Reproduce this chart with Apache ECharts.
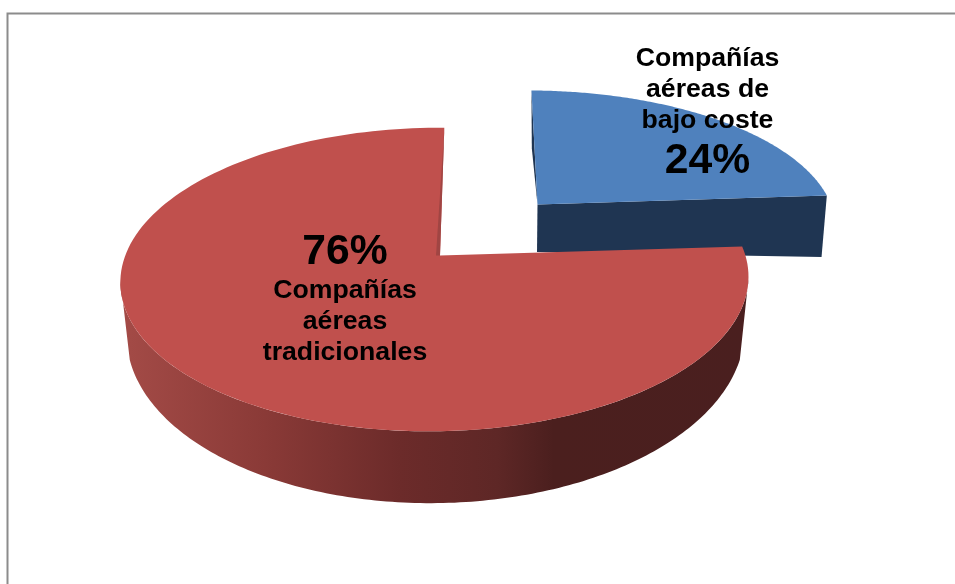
<!DOCTYPE html>
<html><head><meta charset="utf-8">
<style>html,body{margin:0;padding:0;background:#fff}#c{width:955px;height:584px}</style>
<script src="https://cdn.jsdelivr.net/npm/echarts@6/dist/echarts.min.js"></script>
</head><body><div id="c"></div>
<script>
var categories = ['Compañías aéreas de bajo coste', 'Compañías aéreas tradicionales'];
var values = [24, 76];
var labelLines = [['Compañías', 'aéreas de', 'bajo coste'], ['Compañías', 'aéreas', 'tradicionales']];

var topColors = ['#4f81bd', '#c0504d'];
var TOP = [
  {ax:537.5, ay:204.5, a:299, b:-7, k:132, m:-1, p:.158, q:.02},
  {ax:440, ay:255.5, a:310, b:5, k:148, m:0, p:.158, q:.015}
];
var BOT = [
  {ax:537, ay:252, a:294, b:-6, k:120, m:12.6, p:.158, q:.02},
  {ax:438, ay:306, a:305, b:5, k:166, m:0, p:.158, q:.005}
];
var LABEL = [
  {x:707.5, nameY:59, pctY:160},
  {x:345, nameY:291, pctY:251}
];

function pt(g, th) {
  var s = Math.sin(th), c = Math.cos(th), w = 1 + g.p * c + g.q * s;
  return [g.ax + (g.a * s + g.b * c) / w, g.ay + (-g.k * c + g.m * s) / w];
}
function arc(g, t0, t1) {
  var out = [], n = 160;
  for (var i = 0; i <= n; i++) out.push(pt(g, t0 + (t1 - t0) * i / n));
  return out;
}
var total = values[0] + values[1];
var RAD = Math.PI * 2;

function renderItem(params, api) {
  var i = params.dataIndex, val = api.value(0);
  var children = [];
  var t0, t1;
  if (i === 0) { t0 = 0; t1 = val / total * RAD; } else { t0 = values[0] / total * RAD; t1 = RAD; }
  var T = TOP[i], B = BOT[i];
  var a0 = [T.ax, T.ay], a1 = [B.ax, B.ay];
  if (i === 0) {
    children.push({type:'polygon', shape:{points:[pt(T,t0), pt(B,t0), a0]}, style:{fill:'#1f3552'}});
    children.push({type:'polygon', shape:{points:[a0, pt(T,t1), pt(B,t1), a1]}, style:{fill:'#1f3552'}});
  } else {
    var pts = arc(T, 1.73, 4.555).concat(arc(B, 1.885, 4.4).reverse());
    children.push({type:'polygon', shape:{points:pts}, style:{fill:new echarts.graphic.LinearGradient(0,0,1,0,[
      {offset:0,color:'#a44b47'},{offset:.23,color:'#8a3a37'},{offset:.445,color:'#6c2b2a'},
      {offset:.6,color:'#5e2726'},{offset:.69,color:'#4b1f1e'},{offset:1,color:'#4a1f1f'}])}});
  }
  children.push({type:'polygon', shape:{points:[a0].concat(arc(T,t0,t1))}, style:{fill:topColors[i]}});
  if (i === 1) {
    children.push({type:'polygon', shape:{points:[pt(T,t1), a0, [T.ax-4, T.ay]]}, style:{fill:'#a04543'}});
  }
  var L = LABEL[i];
  children.push({type:'text', style:{text:labelLines[i].join('\n'), x:L.x, y:L.nameY-16, align:'center', verticalAlign:'top',
    font:'bold 26.67px "Liberation Sans", Arial, sans-serif', lineHeight:31, fill:'#000'}});
  children.push({type:'text', style:{text:val+'%', x:L.x, y:L.pctY+1, align:'center', verticalAlign:'middle',
    font:'bold 42.67px "Liberation Sans", Arial, sans-serif', fill:'#000'}});
  return {type:'group', children:children};
}

var chart = echarts.init(document.getElementById('c'), null, {renderer:'canvas'});
chart.setOption({
  animation:false,
  backgroundColor:'#fff',
  graphic:[
    {type:'polyline', z:0, shape:{points:[[7.5,584],[7.5,13.5],[955,13.5]]}, style:{stroke:'#8c8c8c',lineWidth:2,fill:null}}
  ],
  series:[{
    type:'custom', coordinateSystem:'none', silent:true, z:2,
    data:values.map(function(v,i){return {name:categories[i], value:[v]};}),
    renderItem:renderItem
  }]
});
</script></body></html>
